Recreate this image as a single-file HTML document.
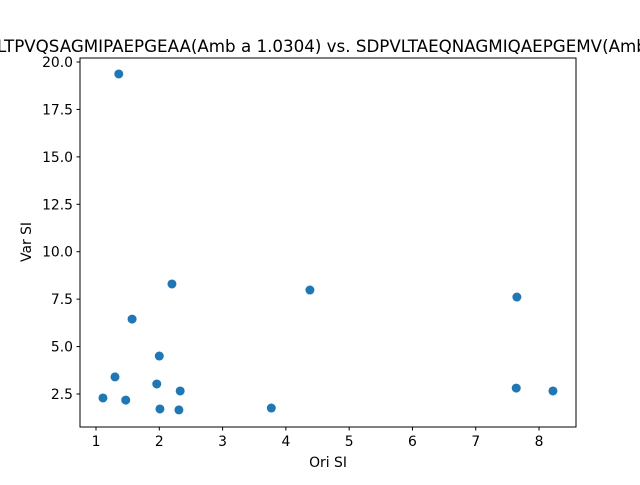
<!DOCTYPE html>
<html><head><meta charset="utf-8"><style>
body{margin:0;background:#fff}
svg text{font-family:"DejaVu Sans","Liberation Sans",sans-serif;fill:#000}
</style></head><body>
<svg id="chart" width="640" height="480" viewBox="0 0 640 480" xmlns="http://www.w3.org/2000/svg">
<rect width="640" height="480" fill="#fff"/>
<text x="-3" y="52" font-size="16.7">LTPVQSAGMIPAEPGEAA(Amb a 1.0304) vs. SDPVLTAEQNAGMIQAEPGEMV(Amb a 1.0101)</text>
<g id="xt"></g><g id="yt"></g><g id="pts"></g>
<rect x="80" y="58" width="496" height="369" fill="none" stroke="#000" stroke-width="1"/>
<text x="328" y="467" font-size="13.9" text-anchor="middle">Ori SI</text>
<text transform="translate(31,242) rotate(-90)" font-size="13.9" text-anchor="middle">Var SI</text>
</svg>
<script>
const xVals=[1.36,2.20,4.38,7.65,1.57,2.00,1.30,1.96,2.33,7.64,8.22,1.11,1.47,2.01,2.31,3.77];
const yVals=[19.37,8.30,7.98,7.61,6.45,4.50,3.40,3.03,2.66,2.81,2.66,2.29,2.18,1.71,1.66,1.76];
const xTicks=[1,2,3,4,5,6,7,8];
const yTicks=[2.5,5.0,7.5,10.0,12.5,15.0,17.5,20.0];
const ns="http://www.w3.org/2000/svg";
function sx(v){return 96+(v-1)*63.29;}
function sy(v){return 394-(v-2.5)*18.971;}
function mk(t,a,p){const e=document.createElementNS(ns,t);for(const k in a)e.setAttribute(k,a[k]);p.appendChild(e);return e;}
const xt=document.getElementById('xt'),yt=document.getElementById('yt'),pts=document.getElementById('pts');
xTicks.forEach(v=>{
 const l=mk('line',{x1:sx(v),x2:sx(v),y1:427,y2:430.5,stroke:'#000'},xt);
 
 
 const t=mk('text',{x:sx(v),y:446,'font-size':13.9,'text-anchor':'middle'},xt);
 
 
 t.textContent=v;
});
yTicks.forEach(v=>{
 const l=mk('line',{x1:76.5,x2:80,y1:sy(v),y2:sy(v),stroke:'#000'},yt);
 
 
 const t=mk('text',{x:73,y:sy(v)+5,'font-size':13.9,'text-anchor':'end'},yt);
 
 
 t.textContent=v.toFixed(1);
});
xVals.forEach((x,i)=>{
 const c=mk('circle',{cx:sx(x),cy:sy(yVals[i]),r:4.5,fill:'#1f77b4'},pts);
 
 
});
</script>
</body></html>
